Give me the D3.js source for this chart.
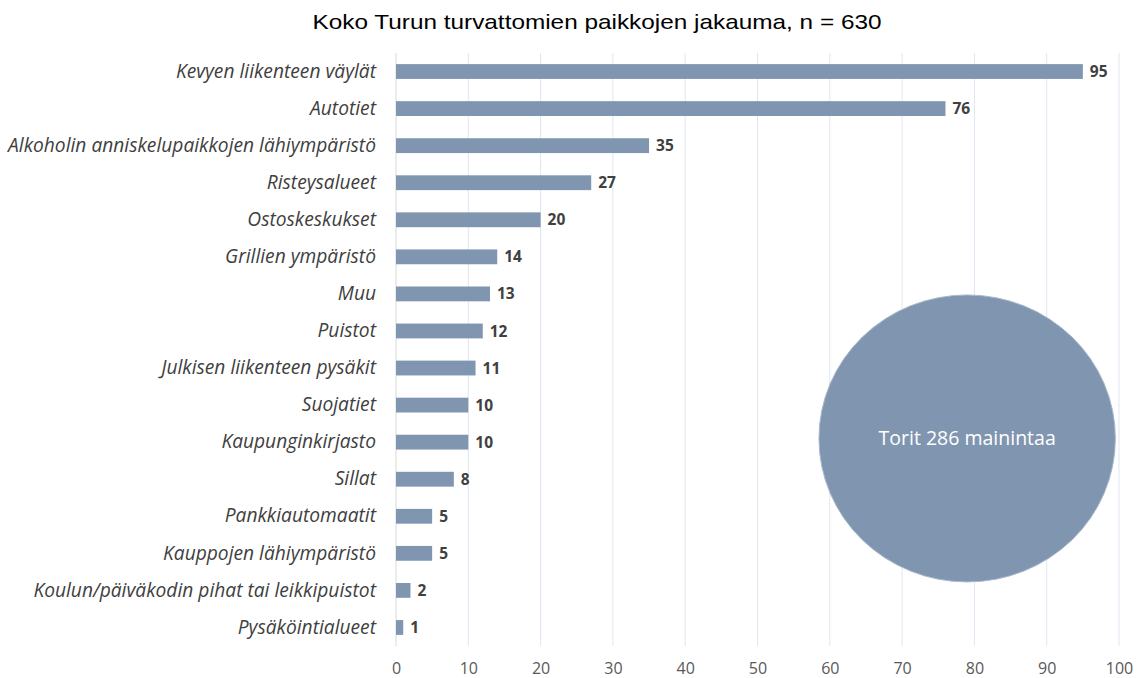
<!DOCTYPE html>
<html><head><meta charset="utf-8">
<script src="https://cdn.jsdelivr.net/npm/d3@7"></script>
<style>body{margin:0;background:#fff}</style>
</head><body>
<svg id="c" width="1146" height="678"></svg>
<script>
const categories = ["Kevyen liikenteen väylät","Autotiet","Alkoholin anniskelupaikkojen lähiympäristö","Risteysalueet","Ostoskeskukset","Grillien ympäristö","Muu","Puistot","Julkisen liikenteen pysäkit ","Suojatiet","Kaupunginkirjasto","Sillat","Pankkiautomaatit","Kauppojen lähiympäristö","Koulun/päiväkodin pihat tai leikkipuistot","Pysäköintialueet"];
const values = [95,76,35,27,20,14,13,12,11,10,10,8,5,5,2,1];
const xTicks = [0,10,20,30,40,50,60,70,80,90,100];
const title = "Koko Turun turvattomien paikkojen jakauma, n = 630";
const bubbleLabel = "Torit 286 mainintaa";
const bubbleCenter = [79, 9.9]; // x value, category index position

const svg = d3.select("#c");
const x = d3.scaleLinear().domain([0,100]).range([396,1119]);
const y = d3.scaleBand().domain(categories).range([53,646]).paddingInner(0.6).paddingOuter(0.3);

svg.append("text").attr("x",597).attr("y",29).attr("text-anchor","middle")
  .attr("textLength",569).attr("lengthAdjust","spacingAndGlyphs")
  .style("font-family","'Liberation Sans',Arial,sans-serif").style("font-size","21px").attr("fill","#000").text(title);

// grid
svg.append("g").selectAll("line").data(xTicks).join("line")
  .attr("x1",d=>x(d)).attr("x2",d=>x(d)).attr("y1",53).attr("y2",646)
  .attr("stroke",d=>d===0?"#d9d9d9":"#dfe6f2").attr("stroke-width",1);

// x axis labels
const xa = svg.append("g").attr("transform","translate(0,646)")
  .call(d3.axisBottom(x).tickValues(xTicks).tickSize(0).tickPadding(17));
xa.select(".domain").remove();
xa.selectAll("text").style("font-family","'Open Sans',sans-serif").style("font-size","16px").attr("fill","#595959");

// y labels
const ya = svg.append("g").attr("transform","translate(396,0)")
  .call(d3.axisLeft(y).tickSize(0).tickPadding(20));
ya.select(".domain").remove();
ya.selectAll("text").style("font-family","'Open Sans',sans-serif").style("font-size","19.2px")
  .style("font-style","italic").attr("fill","#404040");

// bars
svg.append("g").selectAll("rect").data(values).join("rect")
  .attr("x",x(0)).attr("y",(d,i)=>y(categories[i]))
  .attr("width",d=>x(d)-x(0)).attr("height",y.bandwidth()).attr("fill","#8096b0");

svg.append("g").selectAll("text").data(values).join("text")
  .attr("x",d=>x(d)+7).attr("y",(d,i)=>y(categories[i])+y.bandwidth()/2).attr("dy","0.36em")
  .style("font-family","'Open Sans',sans-serif").style("font-size","15.5px").style("font-weight","bold")
  .attr("fill","#404040").text(d=>d);

// bubble
const step = y.step();
const cy = y(categories[0]) + y.bandwidth()/2 + bubbleCenter[1]*step;
const cx = x(bubbleCenter[0]);
svg.append("ellipse").attr("cx",cx).attr("cy",cy).attr("rx",x(20.5)-x(0)).attr("ry",143.5)
  .attr("fill","#8096b0").attr("stroke","#a9b8cc").attr("stroke-width",1);
svg.append("text").attr("x",cx).attr("y",cy).attr("dy","0.35em").attr("text-anchor","middle")
  .style("font-family","'Open Sans',sans-serif").style("font-size","19.5px").attr("fill","#fff").text(bubbleLabel);
</script>
</body></html>
